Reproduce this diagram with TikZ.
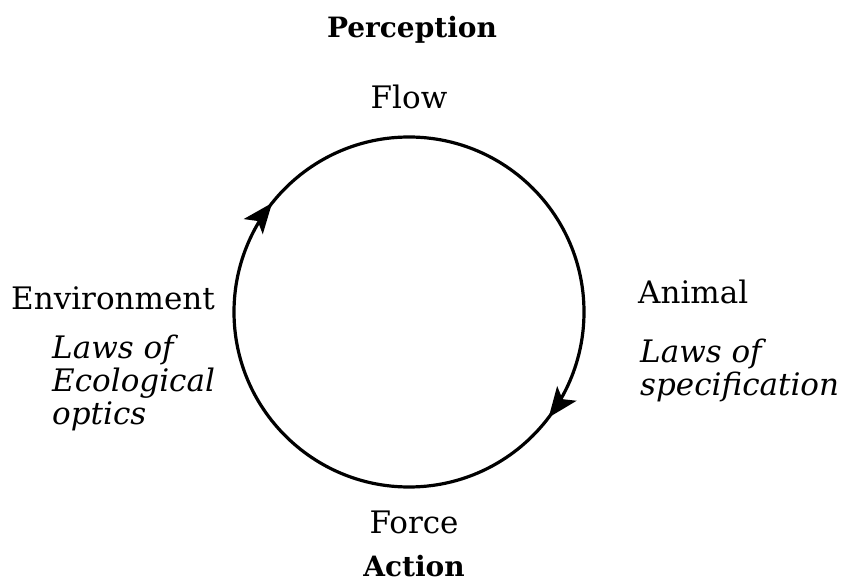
\documentclass[tikz,border=0pt]{standalone}
\usepackage{fontspec}
\setmainfont{DejaVu Serif}
\usetikzlibrary{arrows.meta, decorations.markings}

\begin{document}
\begin{tikzpicture}[
    x=1pt, y=1pt,
    label/.style={inner sep=0pt, font=\fontsize{31}{33}\selectfont},
    pole/.style={inner sep=0pt, font=\fontsize{28}{33}\selectfont\bfseries},
    law/.style={inner sep=0pt, align=left, font=\fontsize{31}{33}\selectfont\itshape},
    cycle/.style={line width=3.2pt,
        decoration={markings,
            mark=at position 0.393 with {\arrowreversed{Stealth[length=30pt,width=24pt,inset=7pt]}},
            mark=at position 0.897 with {\arrowreversed{Stealth[length=30pt,width=24pt,inset=7pt]}}},
        postaction={decorate}},
]
\useasboundingbox (0,0) rectangle (843,587);

% ── Cycle : centre (409,275), r=175 ──────────────────────────────
\coordinate (centre) at (409,275);
\draw[cycle] (centre) circle (175);

% ── Poles : top and bottom ───────────────────────────────────────
\node[pole]  (perc)  at (412,557) {Perception};
\node[label] (flow)  at (409,490) {Flow};
\node[label] (force) at (414,65)  {Force};
\node[pole]  (act)   at (414,21)  {Action};

% ── Sides : left and right ───────────────────────────────────────
\node[label] (env)   at (113,289) {Environment};
\node[law, anchor=north west] (optics) at (52,252)
    {Laws of\\Ecological\\optics};
\node[label, anchor=west] (animal) at (638,295) {Animal};
\node[law, anchor=north west] (spec) at (640,248)
    {Laws of\\specification};

\end{tikzpicture}
\end{document}
